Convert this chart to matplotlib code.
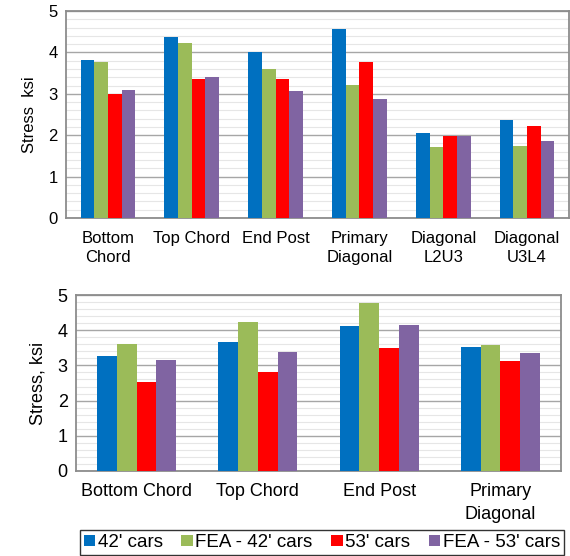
import numpy as np
import matplotlib.pyplot as plt
from matplotlib.ticker import MultipleLocator

plt.rcParams['font.family'] = ['Liberation Sans', 'DejaVu Sans']

series = ["42' cars", "FEA - 42' cars", "53' cars", "FEA - 53' cars"]
colors = ['#0070C0', '#9BBB59', '#FF0000', '#8064A2']

# top chart
top_cats = ['Bottom\nChord', 'Top Chord', 'End Post', 'Primary\nDiagonal',
            'Diagonal\nL2U3', 'Diagonal\nU3L4']
top_42 = [3.82, 4.37, 4.02, 4.57, 2.05, 2.37]
top_fea42 = [3.78, 4.23, 3.61, 3.21, 1.72, 1.75]
top_53 = [2.99, 3.35, 3.35, 3.78, 1.97, 2.22]
top_fea53 = [3.09, 3.40, 3.07, 2.88, 1.99, 1.87]

# bottom chart
bot_cats = ['Bottom Chord', 'Top Chord', 'End Post', 'Primary\nDiagonal']
bot_42 = [3.27, 3.66, 4.11, 3.53]
bot_fea42 = [3.61, 4.24, 4.77, 3.58]
bot_53 = [2.52, 2.82, 3.49, 3.12]
bot_fea53 = [3.14, 3.38, 4.14, 3.34]


def draw(ax, cats, data, ylabel, fs):
    x = np.arange(len(cats))
    w = 0.163
    bars = []
    for k, vals in enumerate(data):
        b = ax.bar(x + (k - 1.5) * w, vals, w, color=colors[k], label=series[k], zorder=3)
        bars.append(b)
    ax.set_xlim(-0.5, len(cats) - 0.5)
    ax.set_ylim(0, 5)
    ax.yaxis.set_major_locator(MultipleLocator(1))
    ax.yaxis.set_minor_locator(MultipleLocator(0.2))
    ax.grid(axis='y', which='major', color='#A6A6A6', linewidth=1.0, zorder=1)
    ax.grid(axis='y', which='minor', color='#E6E6E6', linewidth=0.8, zorder=0)
    ax.set_xticks(x)
    ax.set_xticklabels(cats, fontsize=fs, linespacing=1.4)
    ax.tick_params(axis='both', which='both', length=0, labelsize=fs)
    ax.tick_params(axis='x', pad=9)
    ax.tick_params(axis='y', pad=6)
    ax.set_ylabel(ylabel, fontsize=fs, labelpad=8)
    for s in ax.spines.values():
        s.set_color('#8C8C8C')
        s.set_linewidth(1.3)
    return bars


fig = plt.figure(figsize=(5.70, 5.56), dpi=100)

ax1 = fig.add_axes([0.1158, 0.6079, 0.8825, 0.3723])
draw(ax1, top_cats, [top_42, top_fea42, top_53, top_fea53], 'Stress  ksi', 12)

ax2 = fig.add_axes([0.1333, 0.1529, 0.851, 0.3165])
bars = draw(ax2, bot_cats, [bot_42, bot_fea42, bot_53, bot_fea53], 'Stress, ksi', 13)

leg = fig.legend(handles=bars, labels=series, loc='center', bbox_to_anchor=(0.565, 0.024),
                 ncol=4, fontsize=13.5, frameon=True, fancybox=False,
                 handlelength=0.6, handleheight=0.6, handletextpad=0.15,
                 columnspacing=1.0, borderpad=0.2, borderaxespad=0)
leg.get_frame().set_edgecolor('black')
leg.get_frame().set_linewidth(1.0)

fig.savefig('out.png', dpi=100)
